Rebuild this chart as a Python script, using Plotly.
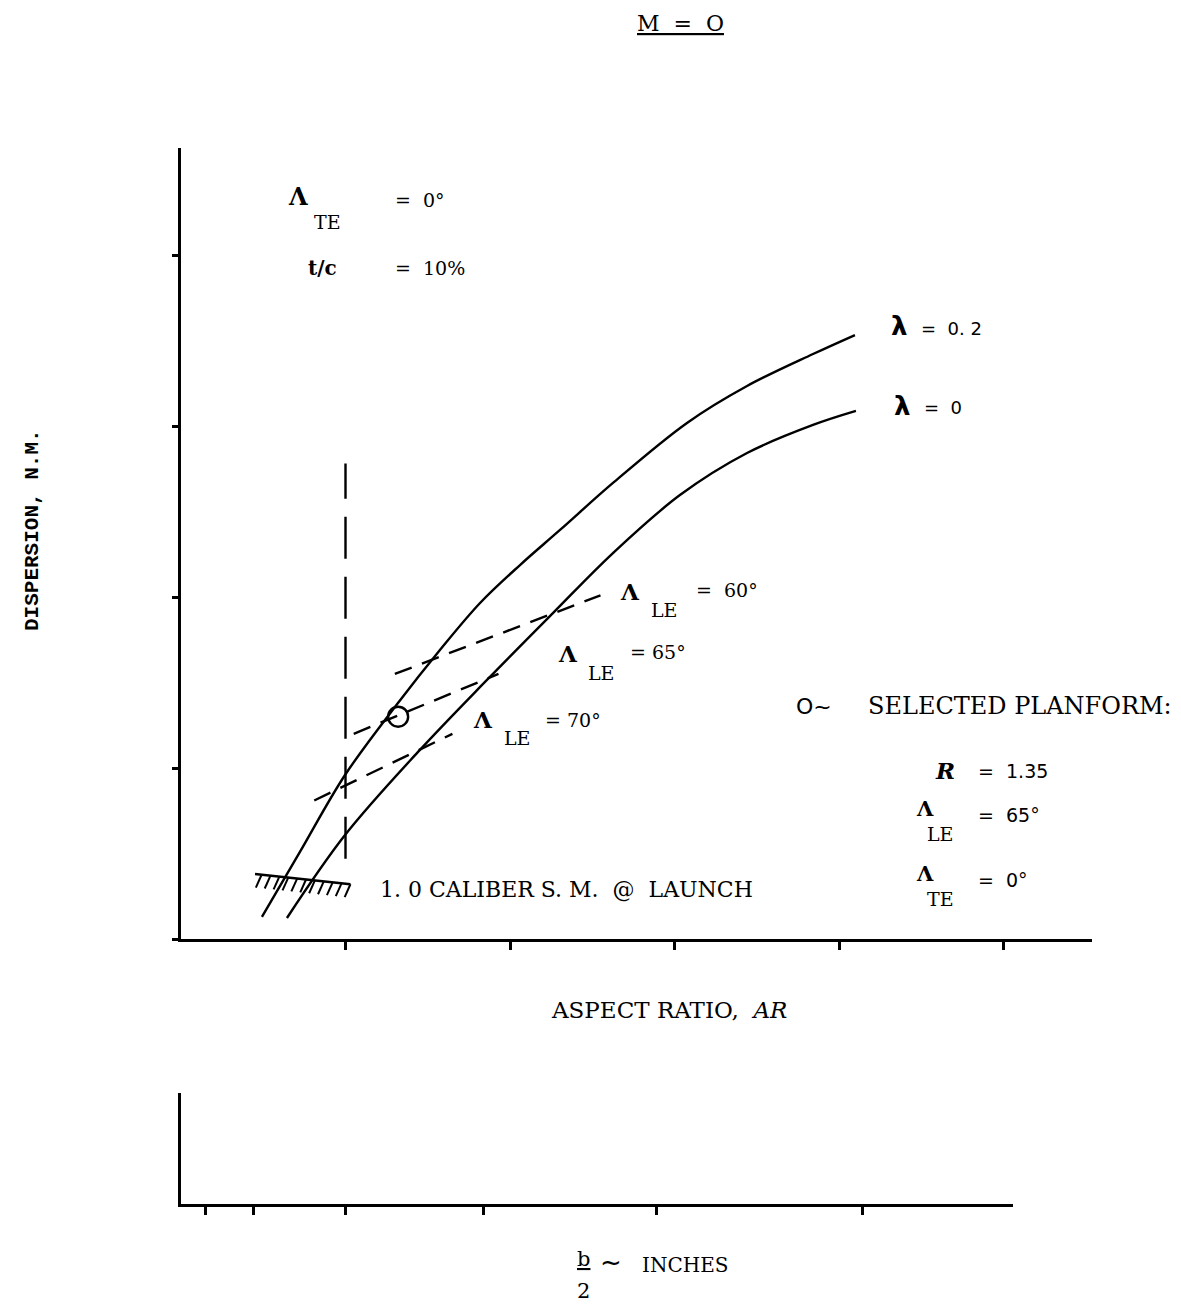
import numpy as np
import plotly.graph_objects as go

# ---------------- data (aspect ratio units on x, dispersion on y) ----------------
lam02_x = [0.492, 0.723, 0.997, 1.319, 1.574, 1.818, 2.061, 2.304, 2.626, 3.076, 3.441, 3.842, 4.097]
lam02_y = [0.129, 0.509, 0.959, 1.380, 1.690, 1.965, 2.187, 2.392, 2.667, 3.018, 3.234, 3.421, 3.532]

lam0_x = [0.644, 0.997, 1.441, 1.860, 2.261, 2.626, 3.033, 3.441, 3.842, 4.103]
lam0_y = [0.123, 0.608, 1.094, 1.515, 1.906, 2.257, 2.596, 2.842, 3.006, 3.088]

le60_x = [1.30, 2.55]
le60_y = [1.55, 2.01]
le65_x = [1.05, 1.93]
le65_y = [1.20, 1.55]
le70_x = [0.81, 1.65]
le70_y = [0.81, 1.20]

limit_x = [1.00, 1.00]
limit_y = [0.47, 2.78]

selected_x = [1.32]
selected_y = [1.30]

caliber_x = [0.45, 1.03]
caliber_y = [0.38, 0.32]

main_xticks = [1, 2, 3, 4, 5]
main_yticks = [0, 1, 2, 3, 4]
b2_ticks = [0.15, 0.44, 1.00, 1.84, 2.89, 4.14]

# page body has an 8px margin
OFF = 8
W, H = 1181 - 2 * OFF, 1314 - 2 * OFF


def px(x):
    return (x - OFF) / W


def py(y):
    return 1 - (y - OFF) / H


fig = go.Figure()

solid = dict(color="black", width=2.4)
dashed = dict(color="black", width=2.4, dash="18px,11px")

fig.add_trace(go.Scatter(x=lam02_x, y=lam02_y, mode="lines",
                         line=dict(shape="spline", smoothing=1.0, **solid)))
fig.add_trace(go.Scatter(x=lam0_x, y=lam0_y, mode="lines",
                         line=dict(shape="spline", smoothing=1.0, **solid)))
for xs, ys in [(le60_x, le60_y), (le65_x, le65_y), (le70_x, le70_y)]:
    fig.add_trace(go.Scatter(x=xs, y=ys, mode="lines", line=dashed))
fig.add_trace(go.Scatter(x=limit_x, y=limit_y, mode="lines",
                         line=dict(color="black", width=2.4, dash="42px,18px")))
fig.add_trace(go.Scatter(x=selected_x, y=selected_y, mode="markers",
                         marker=dict(symbol="circle-open", size=20, color="black",
                                     line=dict(width=2.4))))

# hatched limit line
fig.add_trace(go.Scatter(x=caliber_x, y=caliber_y, mode="lines", line=dict(color="black", width=2.6)))
n_h = 11
hx = np.linspace(caliber_x[0] + 0.04, caliber_x[1], n_h)
hy = np.interp(hx, caliber_x, caliber_y)
hxs, hys = [], []
for a, b in zip(hx, hy):
    hxs += [a, a - 0.035, None]
    hys += [b, b - 0.075, None]
fig.add_trace(go.Scatter(x=hxs, y=hys, mode="lines", line=dict(color="black", width=2)))

# bottom (b/2) axes: an invisible trace so the axis is drawn
fig.add_trace(go.Scatter(x=[None], y=[None], xaxis="x2", yaxis="y2", mode="lines"))

axis_common = dict(showline=True, linewidth=3, linecolor="black", showgrid=False, zeroline=False,
                   ticks="outside", tickwidth=2.5, tickcolor="black", showticklabels=False)

fig.update_layout(
    width=W, height=H, margin=dict(l=0, r=0, t=0, b=0),
    paper_bgcolor="white", plot_bgcolor="white", showlegend=False,
    xaxis=dict(domain=[px(181), px(1092)], range=[0, (1092 - 181) / 164.5],
               tickvals=main_xticks, ticklen=8, anchor="y", **axis_common),
    yaxis=dict(domain=[py(939), py(148)], range=[0, (939 - 148) / 171.0],
               tickvals=main_yticks, ticklen=6, anchor="x", **axis_common),
    xaxis2=dict(domain=[px(181), px(1013)], range=[0, (1013 - 181) / 164.5],
                tickvals=b2_ticks, ticklen=8, anchor="y2", **axis_common),
    yaxis2=dict(domain=[py(1204), py(1093)], range=[0, 1], tickvals=[],
                anchor="x2", **axis_common),
)

SERIF = "DejaVu Serif"
SANS = "DejaVu Sans"
ann = []


def T(x, y, text, size=21, anchor="center", family=SERIF, angle=0):
    ann.append(dict(x=px(x), y=py(y), xref="paper", yref="paper", text=text, showarrow=False,
                    xanchor=anchor, yanchor="middle", textangle=angle,
                    font=dict(family=family, size=size, color="black")))


T(680, 24, "<u>M  =  O</u>", 22)

T(298, 197, "<b>Λ</b>", 24)
T(327, 222, "TE", 19)
T(393, 200, "=  0°", 19, "left")
T(322, 268, "<b>t/c</b>", 20)
T(393, 268, "=  10%", 19, "left")

T(889, 326, "<b>λ</b>", 26, "left", SANS)
T(919, 328, "=  0. 2", 18, "left", SANS)
T(892, 406, "<b>λ</b>", 26, "left", SANS)
T(922, 408, "=  0", 18, "left", SANS)

T(630, 591, "<b>Λ</b>", 23)
T(664, 610, "LE", 19)
T(694, 590, "=  60°", 19, "left")
T(568, 654, "<b>Λ</b>", 23)
T(601, 673, "LE", 19)
T(628, 652, "= 65°", 19, "left")
T(483, 719, "<b>Λ</b>", 23)
T(517, 738, "LE", 19)
T(543, 720, "= 70°", 19, "left")

T(794, 706, "O~", 22, "left", SANS)
T(866, 706, "SELECTED PLANFORM:", 24, "left")
T(945, 770, "<b><i>R</i></b>", 23)
T(976, 771, "=  1.35", 19, "left", SANS)
T(925, 808, "<b>Λ</b>", 21)
T(940, 834, "LE", 19)
T(976, 815, "=  65°", 19, "left", SANS)
T(925, 873, "<b>Λ</b>", 21)
T(940, 899, "TE", 19)
T(976, 880, "=  0°", 19, "left", SANS)

T(378, 889, "1. 0 CALIBER S. M.  @  LAUNCH", 22, "left")

T(669, 1010, "ASPECT RATIO,  <i>AR</i>", 23)
T(33, 530, "<b>DISPERSION, N.M.</b>", 21, "center", "Liberation Mono", -90)

T(583, 1259, "<u>b</u>", 21)
T(583, 1291, "2", 21)
T(611, 1262, "~", 26, "center", SANS)
T(640, 1265, "INCHES", 20, "left")

fig.update_layout(annotations=ann)
fig.write_html("out.html")
